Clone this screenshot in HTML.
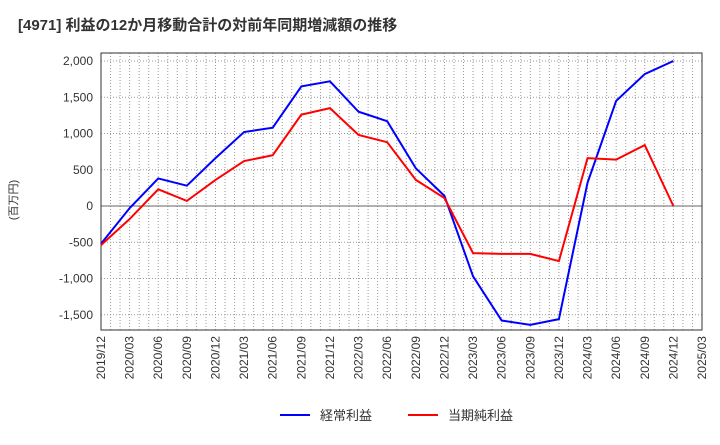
<!DOCTYPE html>
<html><head><meta charset="utf-8"><style>body{margin:0;background:#fff;font-family:"Liberation Sans","Noto Sans CJK JP",sans-serif}</style></head>
<body>
<svg id="c" width="720" height="440" xmlns="http://www.w3.org/2000/svg"></svg>
<script>
const categories=["2019/12","2020/03","2020/06","2020/09","2020/12","2021/03","2021/06","2021/09","2021/12","2022/03","2022/06","2022/09","2022/12","2023/03","2023/06","2023/09","2023/12","2024/03","2024/06","2024/09","2024/12","2025/03"];
const ordinaryProfit=[-520,-30,380,280,660,1020,1080,1650,1720,1300,1170,520,140,-970,-1580,-1640,-1560,320,1450,1820,2000];
const netProfit=[-540,-180,230,70,360,620,700,1260,1350,980,880,360,110,-650,-660,-660,-760,660,640,840,0];
const yTicks=[2000,1500,1000,500,0,-500,-1000,-1500];
const NS="http://www.w3.org/2000/svg",svg=document.getElementById('c');
const L=101,R=702,T=53,B=330;
const x=i=>L+(R-L)*i/(categories.length-1);
const y=v=>206-v*0.0725;
function el(t,a,p){const e=document.createElementNS(NS,t);for(const k in a)e.setAttribute(k,a[k]);(p||svg).appendChild(e);return e;}
let e=el('text',{x:18,y:30,'font-size':15,'font-weight':'bold',fill:'#333'});e.textContent="[4971]  利益の12か月移動合計の対前年同期増減額の推移";


for(let m=1;m<63;m++){const xx=L+(R-L)*m/63;e=el('line',{x1:xx,x2:xx,y1:T,y2:B,stroke:'#999','stroke-dasharray':'1,2','stroke-width':1});

}
yTicks.forEach(v=>{const yy=y(v);e=el('line',{x1:L,x2:R,y1:yy,y2:yy,stroke:v===0?'#666':'#999','stroke-dasharray':v===0?'':'1,2'});


e=el('text',{x:93,y:yy+4,'text-anchor':'end','font-size':12,fill:'#333'});e.textContent=v.toLocaleString('en-US');

});
e=el('rect',{x:L,y:T,width:R-L,height:B-T,fill:'none',stroke:'#333'});


categories.forEach((c,i)=>{const xx=x(i);e=el('text',{transform:`translate(${xx+4},${B+6}) rotate(-90)`,'text-anchor':'end','font-size':12,fill:'#333'});e.textContent=c;

});
e=el('text',{transform:'translate(17,200) rotate(-90)','text-anchor':'middle','font-size':11,fill:'#333'});e.textContent="(百万円)";


function line(d,col,name){e=el('polyline',{points:d.map((v,i)=>x(i)+','+y(v)).join(' '),fill:'none',stroke:col,'stroke-width':2});

}
line(ordinaryProfit,'#0000ff','ordinary-profit-line');
line(netProfit,'#ff0000','net-profit-line');
[[280,'#0000ff','経常利益'],[408,'#ff0000','当期純利益']].forEach(([lx,col,t])=>{const g=el('g',{});


el('line',{x1:lx,x2:lx+30,y1:415,y2:415,stroke:col,'stroke-width':2},g);
const tx=el('text',{x:lx+40,y:420,'font-size':13,fill:'#333'},g);tx.textContent=t;});
</script>
</body></html>
